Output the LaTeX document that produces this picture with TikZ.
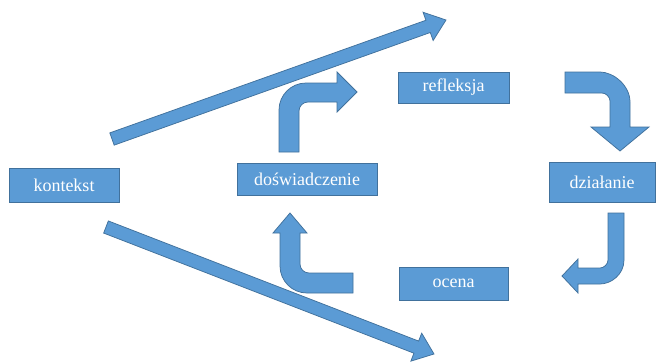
\documentclass[tikz,border=0pt]{standalone}
\usepackage{fontspec}
\setmainfont{Liberation Serif}
\newfontfamily\lblfont{Liberation Serif}
\usetikzlibrary{calc}
\definecolor{boxfill}{HTML}{5B9BD5}
\definecolor{boxline}{HTML}{41719C}
\tikzset{
  lbl/.style={draw=boxline, fill=boxfill, line width=0.75pt, text=white,
    font=\lblfont\fontsize{18}{20}\selectfont, inner sep=0pt, anchor=center},
  blk/.style={draw=boxline, fill=boxfill, line width=0.75pt, line join=miter}
}
% #1 tail coordinate, #2 tip coordinate, #3 half shaft, #4 half head, #5 head length
\newcommand\blkarrow[5]{%
  \coordinate (#1h) at ($(#2)!#5!(#1)$);
  \path[blk] ($(#1)!#3!90:(#2)$) -- ($(#1h)!#3!90:(#2)$) -- ($(#1h)!#4!90:(#2)$)
    -- (#2) -- ($(#1h)!#4!-90:(#2)$) -- ($(#1h)!#3!-90:(#2)$)
    -- ($(#1)!#3!-90:(#2)$) -- cycle;
}
\begin{document}
\begin{tikzpicture}[x=1pt,y=-1pt]
\useasboundingbox (0,0) rectangle (656,362);
\fill[white] (0,0) rectangle (656,362);

% boxes
\node[lbl, minimum width=110pt, minimum height=34pt] (kon) at (64,185) {kontekst};
\node[lbl, minimum width=140pt, minimum height=32pt] (dos) at (307,179) {doświadczenie};
\node[lbl, minimum width=111pt, minimum height=31pt] (ref) at (453.5,87.5) {refleksja};
\node[lbl, minimum width=106pt, minimum height=40pt] (dzi) at (602,182) {działanie};
\node[lbl, minimum width=109pt, minimum height=33pt] (oce) at (453.5,283.5) {ocena};

% straight arrows from kontekst
\coordinate (ut) at (112,139);
\coordinate (ue) at (446,20);
\blkarrow{ut}{ue}{6.5pt}{15pt}{19pt}
\coordinate (lt) at (106,227);
\coordinate (le) at (434,354);
\blkarrow{lt}{le}{6.5pt}{15pt}{19pt}

% bent arrow: doswiadczenie -> refleksja
\path[blk] (299,152) -- (299,111) .. controls (299,106) and (303,102) .. (308,102)
  -- (337,102) -- (337,112) -- (357,92) -- (337,72) -- (337,83) -- (306,83)
  .. controls (291.1,83) and (279,95.1) .. (279,110) -- (279,152) -- cycle;

% bent arrow: refleksja -> dzialanie
\path[blk] (565,72) -- (600,72) .. controls (613.4,72) and (630,85.4) .. (630,102)
  -- (630,127) -- (649,127) -- (620,151) -- (591,127) -- (610,127) -- (610,101)
  .. controls (610,96.6) and (605.6,93) .. (602,93) -- (565,93) -- cycle;

% bent arrow: dzialanie -> ocena
\path[blk] (608,213) -- (624,213) -- (624,260) .. controls (624,274.75) and (610.75,284) .. (600,284)
  -- (578,284) -- (578,293) -- (562,276) -- (578,259) -- (578,268) -- (600,268)
  .. controls (603.6,268) and (608,264.4) .. (608,260) -- cycle;

% bent arrow: ocena -> doswiadczenie
\path[blk] (353,273) -- (309,273) .. controls (304,273) and (300,269) .. (300,264)
  -- (300,233) -- (307,233) -- (290,213) -- (273,233) -- (280,233) -- (280,266)
  .. controls (280,280.9) and (292.1,293) .. (307,293) -- (353,293) -- cycle;
\end{tikzpicture}
\end{document}
